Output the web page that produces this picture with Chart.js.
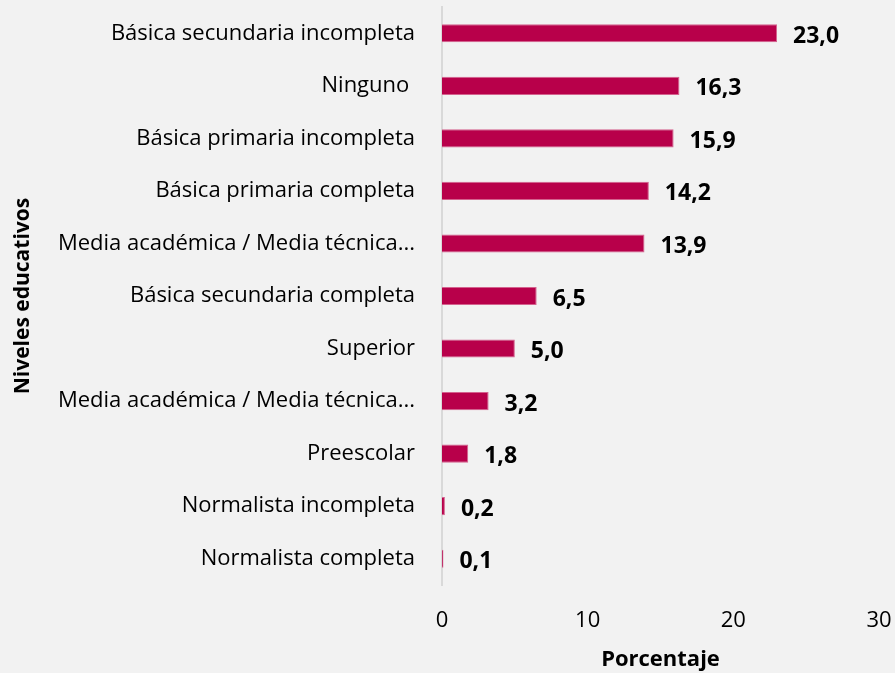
<!DOCTYPE html>
<html><head><meta charset="utf-8">
<script src="https://cdn.jsdelivr.net/npm/chart.js@4/dist/chart.umd.min.js"></script>
<style>html,body{margin:0;padding:0;background:#f2f2f2;} canvas{display:block;}</style>
</head><body>
<canvas id="c" width="895" height="673"></canvas>
<script>
const categories = ["Básica secundaria incompleta", "Ninguno ", "Básica primaria incompleta", "Básica primaria completa", "Media académica / Media técnica...", "Básica secundaria completa", "Superior", "Media académica / Media técnica...", "Preescolar", "Normalista incompleta", "Normalista completa"];
const values = [23.0, 16.3, 15.9, 14.2, 13.9, 6.5, 5.0, 3.2, 1.8, 0.2, 0.1];
const xTicks = [0, 10, 20, 30];
const xTitle = "Porcentaje";
const yTitle = "Niveles educativos";

const FONT = '"Open Sans", "Noto Sans", sans-serif';

const valueLabels = {
  id: 'valueLabels',
  afterDatasetsDraw(chart) {
    const ctx = chart.ctx;
    const meta = chart.getDatasetMeta(0);
    ctx.save();
    ctx.font = 'bold 23px ' + FONT;
    ctx.fillStyle = '#000';
    ctx.textAlign = 'left';
    ctx.textBaseline = 'middle';
    meta.data.forEach((bar, i) => {
      ctx.fillText(values[i].toFixed(1).replace('.', ','), bar.x + 16, bar.y + 3);
    });
    ctx.restore();
  }
};

new Chart(document.getElementById('c'), {
  type: 'bar',
  data: {
    labels: categories,
    datasets: [{
      data: values,
      backgroundColor: '#b8004a',
      borderColor: '#d4628e',
      borderWidth: 1,
      barPercentage: 0.345,
      categoryPercentage: 1.0
    }]
  },
  options: {
    indexAxis: 'y',
    responsive: false,
    animation: false,
    layout: { padding: { top: 7, right: 16, bottom: 0, left: 0 } },
    plugins: { legend: { display: false }, tooltip: { enabled: false } },
    scales: {
      x: {
        min: 0, max: 30,
        afterBuildTicks: (s) => { s.ticks = xTicks.map(v => ({ value: v })); },
        afterFit: (s) => { s.height = 88; s.paddingLeft = 0; s.paddingRight = 0; },
        grid: { display: false, drawTicks: false },
        border: { display: false },
        ticks: { padding: 23, color: '#000', font: { family: FONT, size: 22 } },
        title: { display: true, text: xTitle, color: '#000', padding: { top: 0, bottom: 0 }, font: { family: FONT, size: 22, weight: 'bold' } }
      },
      y: {
        afterFit: (s) => { s.width = 442; s.paddingTop = 0; s.paddingBottom = 0; },
        grid: { display: false, drawTicks: false },
        border: { display: true, color: '#d9d9d9', width: 2 },
        ticks: { padding: 27, color: '#000', font: { family: FONT, size: 22 } },
        title: { display: true, text: yTitle, color: '#000', padding: { top: 10, bottom: 0 }, font: { family: FONT, size: 21, weight: 'bold' } }
      }
    }
  },
  plugins: [valueLabels]
});
</script>
</body></html>
